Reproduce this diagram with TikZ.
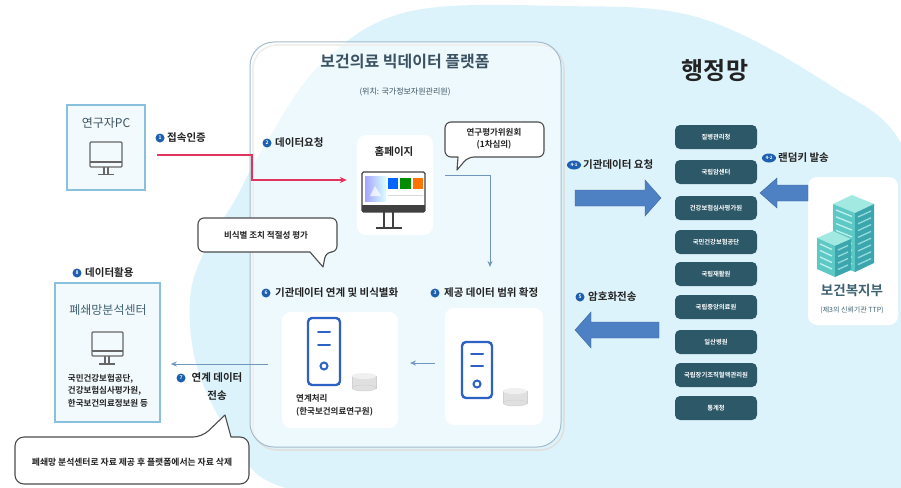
\documentclass[tikz,border=0pt]{standalone}
\usepackage{fontspec}
\setmainfont{Noto Sans CJK KR}[BoldFont={Noto Sans CJK KR Bold}]
\usetikzlibrary{arrows.meta,calc,shapes.geometric}

\definecolor{skybg}{HTML}{DDF3FB}
\definecolor{platline}{HTML}{A3BDCD}
\definecolor{badgeblue}{HTML}{1F5FB0}
\definecolor{agency}{HTML}{2D5868}
\definecolor{bigarrow}{HTML}{4E80C4}
\definecolor{reqred}{HTML}{E0345C}
\definecolor{flowblue}{HTML}{7096BC}
\definecolor{pcframe}{HTML}{88C0DE}
\definecolor{pcfill}{HTML}{F3FAFD}
\definecolor{srvblue}{HTML}{2C62C6}
\definecolor{txt}{HTML}{222222}
\definecolor{titlecol}{HTML}{3B5262}
\definecolor{mohw}{HTML}{3F6272}
\definecolor{bldtop}{HTML}{A2E9E2}
\definecolor{bldleft}{HTML}{5EC8C4}
\definecolor{bldright}{HTML}{3CA6AF}
\definecolor{bldwin}{HTML}{BDF2EE}

\tikzset{
  badge/.style={circle, fill=badgeblue, text=white, inner sep=0pt, minimum size=9pt,
    font=\fontsize{5}{5}\selectfont\bfseries},
  badgewide/.style={ellipse, fill=badgeblue, text=white, inner sep=0pt, minimum width=14pt,
    minimum height=9pt, font=\fontsize{4.5}{5}\selectfont\bfseries},
  steplabel/.style={anchor=west, inner sep=0pt, text=txt, font=\fontsize{10.5}{12}\selectfont\bfseries},
  card/.style={fill=white, rounded corners=9pt, draw=none},
  agencybox/.style={fill=agency, rounded corners=5pt, minimum width=82pt, minimum height=24pt,
    text=white, inner sep=0pt, font=\fontsize{6.3}{7}\selectfont\bfseries},
  bubble/.style={fill=white, draw=black!70, line width=1.1pt, line join=round},
  flow/.style={draw=flowblue, line width=1pt, -{Stealth[length=6pt,width=5pt]}},
  blockarrow/.style={fill=bigarrow, draw=bigarrow!80!black, line width=0.4pt},
  screen/.style={draw=black!60, line width=1.2pt},
  server/.style={draw=srvblue, line width=2.4pt, rounded corners=4pt},
  dbdisk/.style={fill=black!12, draw=black!18, line width=0.5pt},
}

\begin{document}
\begin{tikzpicture}[x=1pt,y=-1pt]
\useasboundingbox (0,0) rectangle (901,487);
\fill[white] (0,0) rectangle (901,487);

% light blue backdrop of the administrative network
\fill[skybg] plot[smooth cycle, tension=0.6] coordinates {
  (407,12) (560,6) (700,18) (833,87) (905,150) (960,320) (930,520) (600,530) (300,492)
  (235,440) (198,370) (190,300) (205,250) (235,200) (262,150) (320,65)};

% platform frame with a soft offset edge
\draw[black!12, line width=1.6pt, rounded corners=24pt] (253,45) rectangle (564,450);
\filldraw[fill=white, fill opacity=0.5, draw=platline, line width=1pt, rounded corners=24pt]
  (250,42) rectangle (561,447);
\node (title) at (405,62) {\fontsize{16}{18}\selectfont\bfseries\color{titlecol}보건의료 빅데이터 플랫폼};
\node (loc) at (405,92) {\fontsize{8}{10}\selectfont\color{titlecol}(위치: 국가정보자원관리원)};

% researcher PC
\node[draw=pcframe, fill=pcfill, line width=1.6pt, minimum width=78pt, minimum height=85pt, inner sep=0pt]
  (pc) at (106,147.5) {};
\node (pclabel) at (106,123) {\fontsize{12}{14}\selectfont\color{titlecol}연구자PC};
\draw[screen, rounded corners=1pt] (90,142) rectangle (122,167);
\draw[screen] (90,162) -- (122,162);
\draw[screen] (104,167) -- (104,174) (108,167) -- (108,174) (98,174.5) -- (114,174.5);

% step 1 and the request line
\node[badge] (b1) at (160,138) {1};
\node[steplabel] (s1) at (167,138) {접속인증};
\coordinate (redstart) at (157,155);

% step 2
\node[badge] (b2) at (267,143) {2};
\node[steplabel] (s2) at (275,143) {데이터요청};

% homepage card
\node[card, minimum width=76pt, minimum height=100pt, inner sep=0pt] (home) at (395,185) {};
\node (homelabel) at (394,152) {\fontsize{10.5}{12}\selectfont\bfseries\color{txt}홈페이지};
\draw[black!75, line width=1.3pt, rounded corners=1.5pt] (362,172) rectangle (425,212);
\fill[black!75] (362,205) rectangle (425,212);
\shade[left color=blue!35, right color=cyan!15] (365,176) rectangle (386,201);
\fill[white, opacity=0.7] (370,196) -- (375,186) -- (381,196) -- cycle;
\fill[blue!60!cyan] (388,178) rectangle (398,189);
\fill[green!55!black] (400,178) rectangle (411,189);
\fill[orange!90!red] (413,178) rectangle (423,189);
\draw[black!15, line width=0.6pt] (388,195) -- (423,195);
\draw[black!75, line width=1.5pt] (384,212) -- (384,227) (393,212) -- (393,227);
\draw[black!75, line width=1.6pt] (376,228) -- (402,228);

\draw[reqred, line width=1.4pt, -{Stealth[length=7pt,width=6pt]}]
  (redstart) -- (252,155) -- (252,180) -- ([xshift=-10pt]home.west |- 0,180);

% review committee bubble
\path[bubble] (445,122) [rounded corners=6pt] -- (544,122) -- (544,157) -- (468,157)
  [sharp corners] -- (457,170) -- (458,157) [rounded corners=6pt] -- (445,157) -- cycle;
\node[align=center, inner sep=0pt, text=txt, font=\fontsize{8.5}{12.5}\selectfont\bfseries]
  (committee) at (494,139) {연구평가위원회\\(1차심의)};
\coordinate (flowstart) at (445,175);
\coordinate (flowend) at (490,267);
\draw[flow] (flowstart) -- (490,175) -- (flowend);

% de-identification review bubble
\path[bubble] (198,218) [rounded corners=6pt] -- (337,218) -- (337,252) -- (326,252)
  [sharp corners] -- (323,267) -- (310,252) [rounded corners=6pt] -- (198,252) -- cycle;
\node[inner sep=0pt] (deid) at (266,235) {\fontsize{8.5}{10}\selectfont\bfseries\color{txt}비식별 조치 적절성 평가};

% steps 3 and 6
\node[badge] (b6) at (266,293) {6};
\node[steplabel] (s6) at (275,293) {기관데이터 연계 및 비식별화};
\node[badge] (b3) at (435,293) {3};
\node[steplabel] (s3) at (444,293) {제공 데이터 범위 확정};

% linkage server card
\node[card, minimum width=116pt, minimum height=116pt, inner sep=0pt] (link) at (340,370) {};
\draw[server] (308,318) rectangle (340,385);
\draw[srvblue, line width=2pt, line cap=round] (318,332) -- (330,332) (318,345) -- (330,345);
\draw[srvblue, line width=2pt] (324,366) circle[radius=3.5];
\fill[dbdisk] (352,376) rectangle (376,388);
\fill[dbdisk] (364,388) ellipse[x radius=12, y radius=3];
\fill[black!6] (364,376) ellipse[x radius=12, y radius=3];
\node[anchor=west, align=left, inner sep=0pt, text=txt, font=\fontsize{8.5}{13}\selectfont\bfseries]
  (linklabel) at (296,405) {연계처리\\(한국보건의료연구원)};

% scope server card
\node[card, minimum width=98pt, minimum height=117pt, inner sep=0pt] (scope) at (494,366.5) {};
\draw[server] (462,342) rectangle (492,398);
\draw[srvblue, line width=2pt, line cap=round] (471,354) -- (483,354) (471,366) -- (483,366);
\draw[srvblue, line width=2pt] (477,384) circle[radius=3.5];
\fill[dbdisk] (503,391) rectangle (527,403);
\fill[dbdisk] (515,403) ellipse[x radius=12, y radius=3];
\fill[black!6] (515,391) ellipse[x radius=12, y radius=3];

\coordinate (scopeout) at (435,363);
\coordinate (linkin) at (410,363);
\draw[flow] (scopeout) -- (linkin);

% step 7: transfer to closed analysis centre
\coordinate (sendstart) at (268,364);
\node[badge] (b7) at (181,378) {7};
\node[align=center, inner sep=0pt, text=txt, font=\fontsize{10.5}{18}\selectfont\bfseries]
  (s7) at (217,387) {연계 데이터\\전송};

% step 8: closed analysis centre
\node[badge] (b8) at (77,273) {8};
\node[steplabel] (s8) at (85,273) {데이터활용};
\node[draw=pcframe, fill=pcfill, line width=1.6pt, minimum width=105pt, minimum height=139pt, inner sep=0pt]
  (center) at (107.5,352.5) {};
\draw[flow] (sendstart) -- ([xshift=10pt]center.east |- 0,364);
\node (centerlabel) at (108,310) {\fontsize{12}{14}\selectfont\color{mohw}폐쇄망분석센터};
\draw[screen, rounded corners=1pt] (92,332) rectangle (123,356);
\draw[screen] (92,351) -- (123,351);
\draw[screen] (105,356) -- (105,363) (109,356) -- (109,363) (99,364) -- (115,364);
\node[align=left, inner sep=0pt, text=txt, font=\fontsize{8.5}{12.5}\selectfont\bfseries]
  (centerorgs) at (108,390.5) {국민건강보험공단,\\건강보험심사평가원,\\한국보건의료정보원 등};

% deletion note bubble
\path[bubble] (15,437) [rounded corners=9pt] -- (202,437) [sharp corners] -- (225,415) -- (231,437)
  [rounded corners=9pt] -- (249,437) -- (249,484) -- (15,484) -- cycle;
\node[inner sep=0pt] (note) at (132,462)
  {\fontsize{8.8}{10}\selectfont\bfseries\color{txt}폐쇄망 분석센터로 자료 제공 후 플랫폼에서는 자료 삭제};

% administrative network
\node (adminnet) at (715,71) {\fontsize{24}{27}\selectfont\bfseries\color{txt}행정망};
\foreach \name/\yy [count=\i] in {질병관리청/137, 국립암센터/172, 건강보험심사평가원/208,
    국민건강보험공단/242, 국립재활원/274, 국립중앙의료원/307, 일산병원/342,
    국립장기조직혈액관리원/375, 통계청/408}
  \node[agencybox] (ag\i) at (716,\yy) {\name};

% step 4-1 and step 5 block arrows
\node[badgewide] (b41) at (574,165) {4-1};
\node[steplabel] (s41) at (583,165) {기관데이터 요청};
\fill[blockarrow] (575,190) -- (645,190) -- (645,180) -- (661,198) -- (645,216) -- (645,206) -- (575,206) -- cycle;
\node[badge] (b5) at (580,297) {5};
\node[steplabel] (s5) at (588,297) {암호화전송};
\fill[blockarrow] (659,322) -- (591,322) -- (591,312) -- (575,330) -- (591,348) -- (591,338) -- (659,338) -- cycle;

% ministry card
\node[card, minimum width=90pt, minimum height=148pt, inner sep=0pt] (mohw) at (853,251) {};
\node[badgewide] (b42) at (769,158) {4-2};
\node[steplabel] (s42) at (778,158) {랜덤키 발송};
\fill[blockarrow] (808,185) -- (777,185) -- (777,178) -- (760,193) -- (777,208) -- (777,201) -- (808,201) -- cycle;

% building
\begin{scope}
  \fill[bldtop] (833,204) -- (852,195) -- (874,204) -- (855,213) -- cycle;
  \fill[bldleft] (833,204) -- (855,213) -- (855,272) -- (833,263) -- cycle;
  \fill[bldright] (855,213) -- (874,204) -- (874,263) -- (855,272) -- cycle;
  \foreach \k in {0,...,7} {
    \draw[bldwin, line width=1.3pt] (836,{210+6.8*\k}) -- (852,{216.5+6.8*\k});
    \draw[bldwin!70!bldright, line width=1.3pt] (858,{217+6.8*\k}) -- (871,{211+6.8*\k});
  }
  \fill[bldtop] (817,238) -- (833,231) -- (851,239) -- (835,246) -- cycle;
  \fill[bldleft] (817,238) -- (835,246) -- (835,277) -- (817,269) -- cycle;
  \fill[bldright] (835,246) -- (851,239) -- (851,270) -- (835,277) -- cycle;
  \foreach \k in {0,...,3} {
    \draw[bldwin, line width=1.3pt] (820,{244+6.5*\k}) -- (832,{249.5+6.5*\k});
    \draw[bldwin!70!bldright, line width=1.3pt] (838,{250+6.5*\k}) -- (848,{245.5+6.5*\k});
  }
\end{scope}
\node (mohwlabel) at (852,290) {\fontsize{13.5}{15}\selectfont\bfseries\color{mohw}보건복지부};
\node (ttp) at (852,310) {\fontsize{7}{8}\selectfont\color{mohw}(제3의 신뢰기관 TTP)};

\end{tikzpicture}
\end{document}
